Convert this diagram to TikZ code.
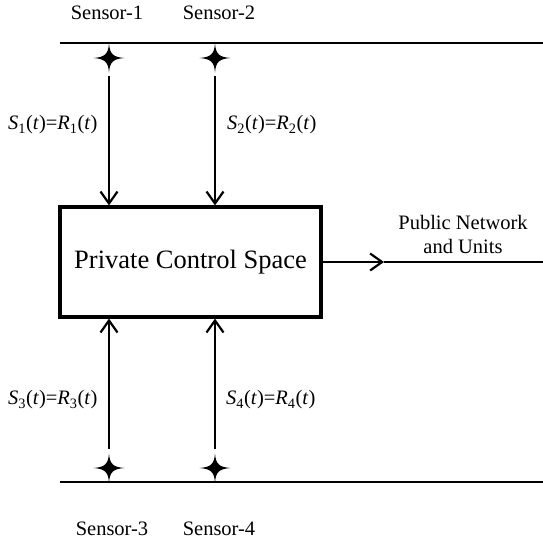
\documentclass[tikz,border=0pt]{standalone}
\usepackage{fontspec}
\setmainfont{Liberation Serif}
\usetikzlibrary{arrows.meta}
\tikzset{
  wire/.style={line width=1.8pt},
  arr/.style={wire,-{Straight Barb[length=12pt,width=17pt,line width=2.2pt]}},
  boxnode/.style={draw,line width=3.2pt,minimum width=261pt,minimum height=110pt,inner sep=0pt,font=\fontsize{26.5}{30}\selectfont},
  lbl/.style={font=\fontsize{20.5}{24}\selectfont,inner sep=0pt},
  eq/.style={font=\fontsize{20.5}{24}\selectfont,inner sep=0pt,anchor=west}
}
% four-pointed star centred at the given coordinate
\newcommand{\sensorstar}[1]{%
  \fill (#1) ++(15.5,0)
    .. controls +(-11,-0.9) and +(0.9,11) .. ++(-15.5,-14.5)
    .. controls +(-0.9,11) and +(11,-0.9) .. ++(-15.5,14.5)
    .. controls +(11,0.9) and +(-0.9,-11) .. ++(15.5,14.5)
    .. controls +(0.9,-11) and +(-11,0.9) .. ++(15.5,-14.5) -- cycle;}
\newcommand{\eqlabel}[1]{\textit{S}\textsubscript{#1}(\textit{t})=\textit{R}\textsubscript{#1}(\textit{t})}
\begin{document}
\begin{tikzpicture}[x=1pt,y=-1pt]
\useasboundingbox (0,0) rectangle (543,542);

% sensor rails
\coordinate (railTL) at (60,43);
\coordinate (railTR) at (543,43);
\coordinate (railBL) at (60,482);
\coordinate (railBR) at (543,482);
\draw[wire] (railTL) -- (railTR);
\draw[wire] (railBL) -- (railBR);

% sensors
\coordinate (s1) at (109,58);
\coordinate (s2) at (215,58);
\coordinate (s3) at (109,468);
\coordinate (s4) at (215,468);
\sensorstar{s1}
\sensorstar{s2}
\sensorstar{s3}
\sensorstar{s4}

\node[lbl] (l1) at (107,13) {Sensor-1};
\node[lbl] (l2) at (219,13) {Sensor-2};
\node[lbl] (l3) at (112,529) {Sensor-3};
\node[lbl] (l4) at (219,529) {Sensor-4};

% central block
\node[boxnode] (pcs) at (190.5,262) {Private Control Space};

% sensor links
\coordinate (a1) at (109,76);
\coordinate (a2) at (215,76);
\coordinate (a3) at (109,449);
\coordinate (a4) at (215,449);
\draw[arr] (a1) -- (a1 |- pcs.north);
\draw[arr] (a2) -- (a2 |- pcs.north);
\draw[arr] (a3) -- (a3 |- pcs.south);
\draw[arr] (a4) -- (a4 |- pcs.south);

\node[eq] (e1) at (8,125) {\eqlabel{1}};
\node[eq] (e2) at (227,125) {\eqlabel{2}};
\node[eq] (e3) at (8,400) {\eqlabel{3}};
\node[eq] (e4) at (226,400) {\eqlabel{4}};

% output to public network
\coordinate (mid) at (384,262);
\coordinate (out) at (543,262);
\draw[arr] (pcs.east) -- (mid);
\draw[wire] (mid) -- (out);
\node[lbl,align=center] (pub) at (463,234) {Public Network\\and Units};
\end{tikzpicture}
\end{document}
